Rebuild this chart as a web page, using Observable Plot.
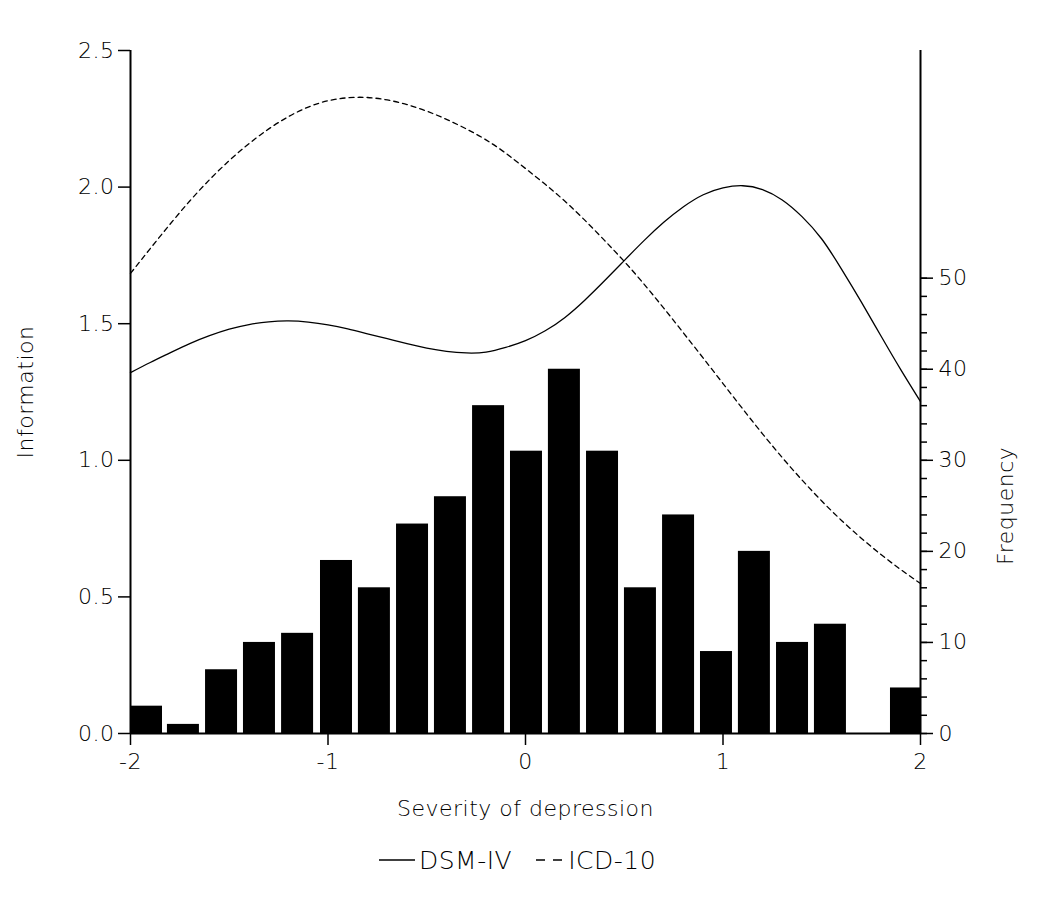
<!DOCTYPE html>
<html>
<head>
<meta charset="utf-8">
<script src="https://cdn.jsdelivr.net/npm/d3@7"></script>
<script src="https://cdn.jsdelivr.net/npm/@observablehq/plot@0.6"></script>
<style>
  html, body { margin: 0; padding: 0; background: #fff; }
  #chart { width: 1050px; }
  .legend { width: 1035px; padding-right: 15px; display: flex; justify-content: center; align-items: center; height: 32px; margin-top: 9px;
    font-family: "DejaVu Sans", sans-serif; font-weight: 200; font-size: 25px; letter-spacing: 0.5px; color: #000; }
  .legend .item { display: flex; align-items: center; }
  .legend svg { margin-right: 4px; }
</style>
</head>
<body>
<div id="chart"></div>
<script>
// ---- data ----
const binLeft = [-2.000, -1.813, -1.620, -1.428, -1.235, -1.038, -0.846, -0.653, -0.461, -0.268,
                 -0.076, 0.116, 0.309, 0.501, 0.694, 0.886, 1.078, 1.271, 1.463, 1.656, 1.848];
const frequency = [3, 1, 7, 10, 11, 19, 16, 23, 26, 36, 31, 40, 31, 16, 24, 9, 20, 10, 12, 0, 5];
const binWidth = 0.162;

const theta = [-2.0,-1.9,-1.8,-1.7,-1.6,-1.5,-1.4,-1.3,-1.2,-1.1,-1.0,-0.9,-0.8,-0.7,-0.6,-0.5,-0.4,-0.3,-0.2,-0.1,
               0.0,0.1,0.2,0.3,0.4,0.5,0.6,0.7,0.8,0.9,1.0,1.1,1.2,1.3,1.4,1.5,1.6,1.7,1.8,1.9,2.0];
const dsmInfo = [1.321,1.358,1.393,1.427,1.456,1.480,1.497,1.507,1.510,1.506,1.496,1.481,1.463,1.445,1.427,1.411,1.399,1.393,1.396,1.413,
                 1.438,1.474,1.523,1.586,1.657,1.731,1.804,1.871,1.928,1.972,1.997,2.005,1.991,1.953,1.892,1.810,1.700,1.580,1.455,1.332,1.215];
const icdInfo = [1.684,1.775,1.864,1.949,2.027,2.097,2.159,2.213,2.258,2.293,2.316,2.327,2.328,2.319,2.302,2.278,2.248,2.213,2.173,2.124,
                 2.068,2.010,1.948,1.879,1.805,1.728,1.645,1.557,1.466,1.374,1.281,1.188,1.097,1.010,0.928,0.851,0.780,0.715,0.655,0.600,0.549];

const xTicks = [-2, -1, 0, 1, 2];
const infoTicks = [0, 0.5, 1.0, 1.5, 2.0, 2.5];
const freqTicks = [0, 10, 20, 30, 40, 50];
const freqMinorTicks = d3.range(0, 51, 2);
const freqPerInfo = 30; // right axis: 75 frequency = 2.5 information

const labels = { x: "Severity of depression", yLeft: "Information", yRight: "Frequency" };
const series = [{ name: "DSM-IV", values: dsmInfo, dash: null }, { name: "ICD-10", values: icdInfo, dash: "5,4" }];

// ---- build tables ----
const bars = binLeft.map((x1, i) => ({ x1, x2: Math.min(x1 + binWidth, 2), f: frequency[i] }));
const curves = series.flatMap(s => theta.map((t, i) => ({ series: s.name, t, info: s.values[i] })));

const font = "DejaVu Sans, sans-serif";

const chart = Plot.plot({
  width: 1050,
  height: 835,
  marginLeft: 130,
  marginRight: 130,
  marginTop: 50,
  marginBottom: 102,
  style: { fontFamily: font, fontSize: "22px", fontWeight: 200, letterSpacing: "0.5px", color: "#000", background: "#fff" },
  x: { domain: [-2, 2], axis: null },
  y: { domain: [0, 2.5], axis: null },
  marks: [
    Plot.rectY(bars, { x1: "x1", x2: "x2", y1: 0, y2: d => d.f / freqPerInfo, fill: "#000" }),
    Plot.line(curves.filter(d => d.series === "DSM-IV"), { x: "t", y: "info", stroke: "#000", strokeWidth: 1.3, curve: "natural" }),
    Plot.line(curves.filter(d => d.series === "ICD-10"), { x: "t", y: "info", stroke: "#000", strokeWidth: 1.3, strokeDasharray: "5,4", curve: "natural" }),
    // frame lines
    Plot.ruleX([-2, 2], { stroke: "#000", strokeWidth: 2 }),
    Plot.ruleY([0], { stroke: "#000", strokeWidth: 2 }),
    // left axis
    Plot.axisY(infoTicks, { anchor: "left", tickSize: 12, tickPadding: 4, strokeWidth: 1.5,
      tickFormat: d3.format(".1f"), label: null, fontSize: 22 }),
    // right axis
    Plot.axisY(freqMinorTicks.map(f => f / freqPerInfo), { anchor: "right", tickSize: 6, strokeWidth: 1.5,
      tickFormat: () => "", label: null }),
    Plot.axisY(freqTicks.map(f => f / freqPerInfo), { anchor: "right", tickSize: 12, tickPadding: 6, strokeWidth: 1.5,
      tickFormat: d => String(Math.round(d * freqPerInfo)), label: null, fontSize: 22 }),
    // bottom axis
    Plot.axisX(xTicks, { anchor: "bottom", tickSize: 12, tickPadding: 8, strokeWidth: 1.5,
      tickFormat: d => (d < 0 ? "-" : "") + Math.abs(d), label: null, fontSize: 22 }),
    // axis labels
    Plot.text([labels.yLeft], { frameAnchor: "left", textAnchor: "middle", dx: -105, rotate: -90, text: d => d, fontSize: 22 }),
    Plot.text([labels.yRight], { frameAnchor: "right", textAnchor: "middle", y: () => 25 / freqPerInfo, dx: 85, rotate: -90, text: d => d, fontSize: 22 }),
    Plot.text([labels.x], { frameAnchor: "bottom", textAnchor: "middle", dy: 82, text: d => d, fontSize: 22 })
  ]
});
document.getElementById("chart").appendChild(chart);

// legend
const legend = document.createElement("div");
legend.className = "legend";
series.forEach((s, i) => {
  const item = document.createElement("div");
  item.className = "item";
  if (i > 0) item.style.marginLeft = "24px";
  item.innerHTML = s.dash
    ? `<svg width="28" height="10"><line x1="0" y1="5" x2="26" y2="5" stroke="#000" stroke-width="1.3" stroke-dasharray="9,8"/></svg><span>${s.name}</span>`
    : `<svg width="36" height="10"><line x1="0" y1="5" x2="36" y2="5" stroke="#000" stroke-width="1.3"/></svg><span>${s.name}</span>`;
  legend.appendChild(item);
});
document.body.appendChild(legend);
</script>
</body>
</html>
